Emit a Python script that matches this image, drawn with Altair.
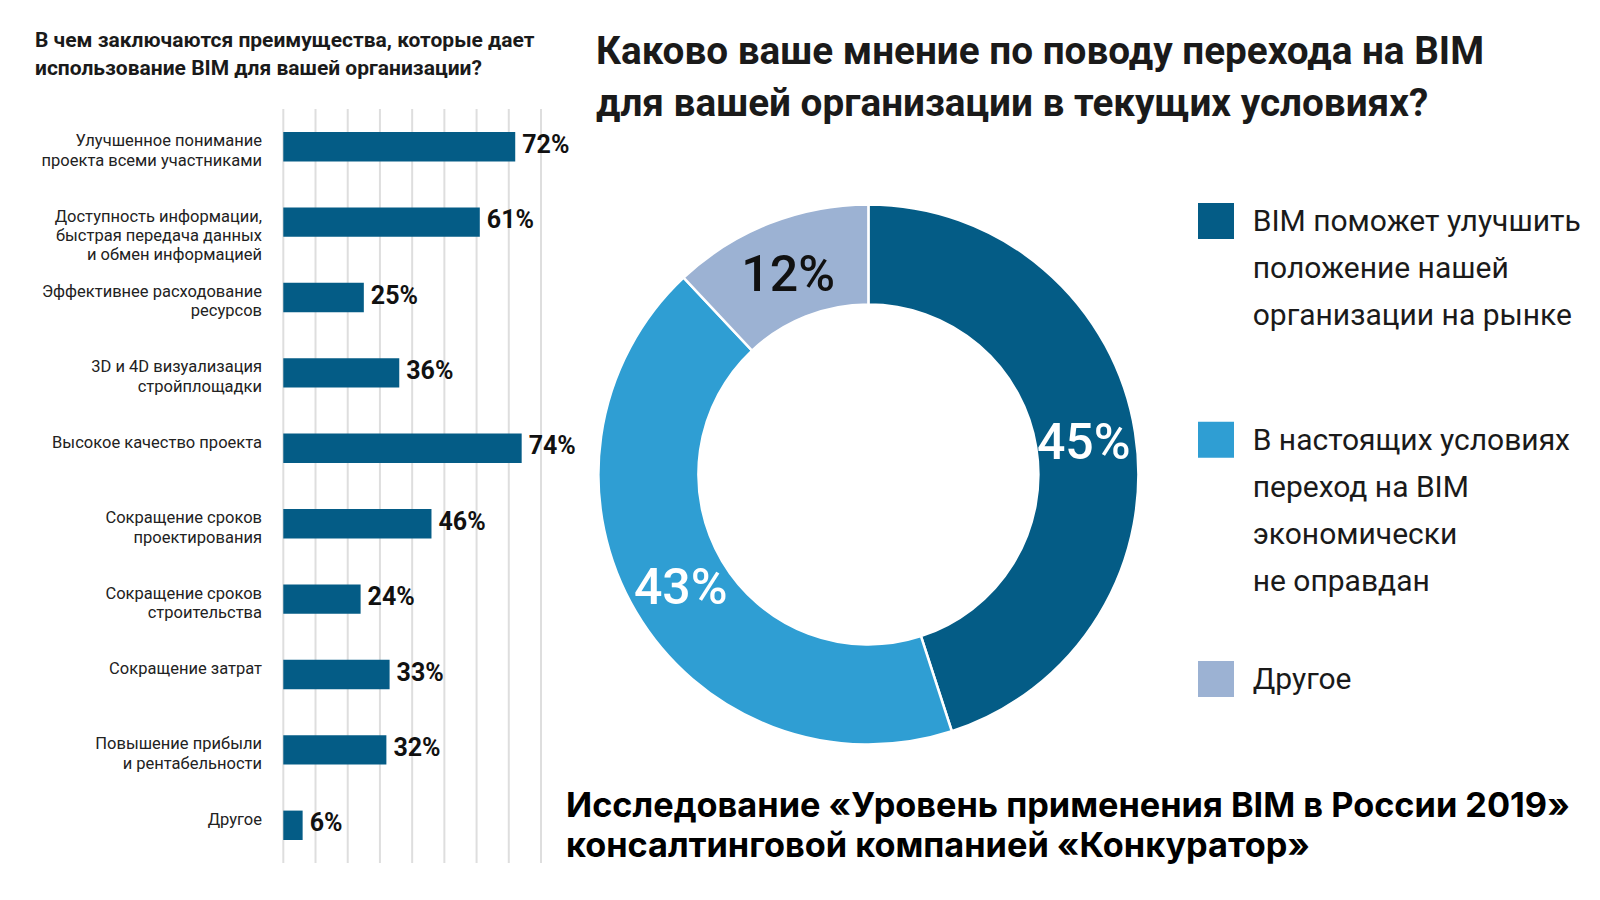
import altair as alt
import pandas as pd

# ---------------- data ----------------
benefit_labels = [
    "Улучшенное понимание\nпроекта всеми участниками",
    "Доступность информации,\nбыстрая передача данных\nи обмен информацией",
    "Эффективнее расходование\nресурсов",
    "3D и 4D визуализация\nстройплощадки",
    "Высокое качество проекта",
    "Сокращение сроков\nпроектирования",
    "Сокращение сроков\nстроительства",
    "Сокращение затрат",
    "Повышение прибыли\nи рентабельности",
    "Другое",
]
benefit_values = [72, 61, 25, 36, 74, 46, 24, 33, 32, 6]
grid_ticks = [0, 10, 20, 30, 40, 50, 60, 70, 80]

opinion_labels = [
    "BIM поможет улучшить\nположение нашей\nорганизации на рынке",
    "В настоящих условиях\nпереход на BIM\nэкономически\nне оправдан",
    "Другое",
]
opinion_values = [45, 43, 12]

left_title = ["В чем заключаются преимущества, которые дает",
              "использование BIM для вашей организации?"]
right_title = ["Каково ваше мнение по поводу перехода на BIM",
               "для вашей организации в текущих условиях?"]
caption = ["Исследование «Уровень применения BIM в России 2019»",
           "консалтинговой компанией «Конкуратор»"]

# ---------------- style ----------------
FONT = "Roboto"
DARK = "#045c86"
LIGHT = "#2f9ed3"
GREY = "#9cb2d3"
W, H = 1580, 880

bars_df = pd.DataFrame({"cat": benefit_labels, "val": benefit_values,
                        "order": list(range(len(benefit_labels)))})
ticks_df = pd.DataFrame({"t": grid_ticks})
pie_df = pd.DataFrame({"cat": opinion_labels, "val": opinion_values,
                       "order": list(range(len(opinion_labels)))})
one = pd.DataFrame({"k": [0]})

xs = alt.Scale(domain=[0, 80], range=[275.3, 533.0])
ys = alt.Scale(domain=benefit_labels, range=[101, 855], paddingInner=0.61, paddingOuter=0.305)

grid = alt.Chart(ticks_df).mark_rule(color="#dedede", strokeWidth=2).encode(
    x=alt.X("t:Q", scale=xs, axis=None),
    y=alt.value(101), y2=alt.value(855),
)
bars = alt.Chart(bars_df).mark_bar(color=DARK).encode(
    x=alt.X("val:Q", scale=xs, axis=None),
    y=alt.Y("cat:N", scale=ys, axis=None, sort=benefit_labels),
)
vals = alt.Chart(bars_df).transform_calculate(
    lab="datum.val + '%'"
).mark_text(align="left", baseline="middle", dx=7, dy=-2, font=FONT,
            fontSize=25, fontWeight="bold", color="#111111").encode(
    x=alt.X("val:Q", scale=xs, axis=None),
    y=alt.Y("cat:N", scale=ys, axis=None, sort=benefit_labels),
    text="lab:N",
)
cats = alt.Chart(bars_df).transform_calculate(
    lines="split(datum.cat, '\\n')"
).mark_text(align="right", baseline="top", dy=-13.5, font=FONT, fontSize=16.5,
            lineHeight=19.4, color="#222222").encode(
    x=alt.value(254),
    y=alt.Y("cat:N", scale=ys, axis=None, sort=benefit_labels),
    text="lines:N",
)
bar_group = alt.layer(grid, bars, vals, cats)

# donut
cs = alt.Scale(domain=opinion_labels, range=[DARK, LIGHT, GREY])
CX, CY = 860.4, 466.5
arcs = alt.Chart(pie_df).mark_arc(innerRadius=170, outerRadius=270,
                                  stroke="white", strokeWidth=2.5).encode(
    theta=alt.Theta("val:Q", stack=True),
    color=alt.Color("cat:N", scale=cs, legend=None),
    order=alt.Order("order:Q"),
    x=alt.value(CX), y=alt.value(CY),
)
arc_text = alt.Chart(pie_df).transform_calculate(
    lab="datum.val + '%'"
).mark_text(radius=218, font=FONT, fontSize=50, fontWeight=500,
            baseline="middle", align="center", dy=4).encode(
    theta=alt.Theta("val:Q", stack=True),
    order=alt.Order("order:Q"),
    text="lab:N",
    color=alt.condition(alt.datum.cat == "Другое", alt.value("#111111"),
                        alt.value("white")),
    x=alt.value(CX), y=alt.value(CY),
)
donut_group = alt.layer(arcs, arc_text)

# manual legend: one entry per category, stacked top to bottom
legend_y = [213, 431.7, 671]
legend_layers = []
for cat, ly in zip(opinion_labels, legend_y):
    base = alt.Chart(pie_df).transform_filter(alt.datum.cat == cat)
    legend_layers.append(base.mark_square(size=36 * 36, opacity=1).encode(
        x=alt.value(1208), y=alt.value(ly),
        color=alt.Color("cat:N", scale=cs, legend=None),
    ))
    legend_layers.append(base.transform_calculate(
        lines="split(datum.cat, '\\n')"
    ).mark_text(align="left", baseline="top", dy=-14, font=FONT, fontSize=30,
                fontWeight="normal", lineHeight=47, color="#1a1a1a").encode(
        x=alt.value(1244.7), y=alt.value(ly), text="lines:N",
    ))
legend_group = alt.layer(*legend_layers)

# titles
t_left = alt.Chart(one).mark_text(
    text=left_title, align="left", baseline="top", font=FONT, fontSize=21,
    fontWeight="bold", lineHeight=27.5, color="#1a1a1a"
).encode(x=alt.value(27), y=alt.value(22))
t_right = alt.Chart(one).mark_text(
    text=right_title, align="left", baseline="top", font=FONT, fontSize=38.7,
    fontWeight="bold", lineHeight=52, color="#1a1a1a"
).encode(x=alt.value(588), y=alt.value(24.5))
t_cap = alt.Chart(one).mark_text(
    text=caption, align="left", baseline="top", font="Inter", fontSize=34.3,
    fontWeight="bold", lineHeight=40, color="#000000"
).encode(x=alt.value(558), y=alt.value(782))

chart = alt.layer(
    bar_group, donut_group, legend_group, t_left, t_right, t_cap
).resolve_scale(
    x="independent", y="independent", color="independent", theta="independent"
).properties(
    width=W, height=H, autosize=alt.AutoSizeParams(type="none"), padding=0
).configure_view(stroke=None)

chart.save("out.html", embed_options={"renderer": "svg", "actions": False})
